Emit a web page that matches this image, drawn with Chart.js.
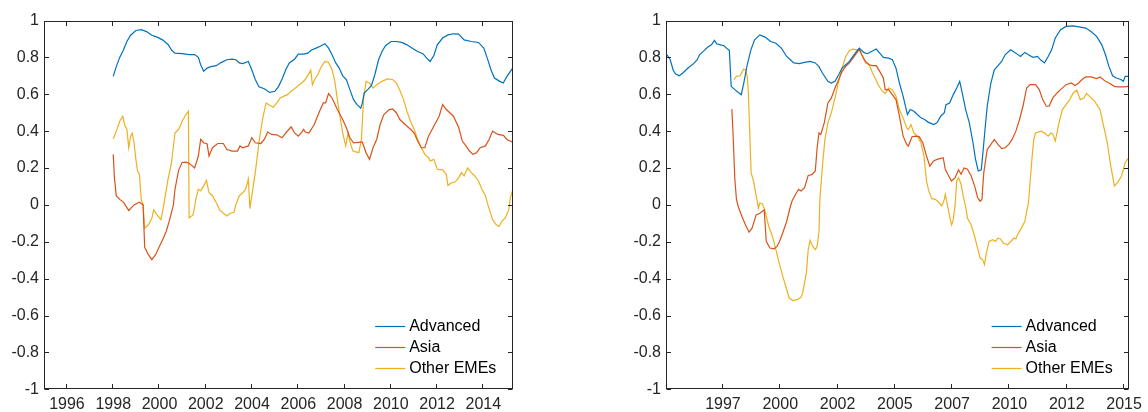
<!DOCTYPE html>
<html><head><meta charset="utf-8">
<script src="https://cdn.jsdelivr.net/npm/chart.js@4.4.1/dist/chart.umd.min.js"></script>
<style>
html,body{margin:0;padding:0;background:#fff;}
#wrap{position:relative;width:1148px;height:412px;overflow:hidden;background:#fff;}
canvas{position:absolute;top:0;}
#c1{left:0;} #c2{left:574px;}
</style></head><body>
<div id="wrap"><canvas id="c1" width="574" height="412"></canvas><canvas id="c2" width="574" height="412"></canvas></div>
<script>
const seriesNames = ['Advanced', 'Asia', 'Other EMEs'];
const seriesColors = ['#0072BD', '#D95319', '#EDB120'];

const yTickValues = [-1, -0.8, -0.6, -0.4, -0.2, 0, 0.2, 0.4, 0.6, 0.8, 1];
const yTickLabels = ['-1', '-0.8', '-0.6', '-0.4', '-0.2', '0', '0.2', '0.4', '0.6', '0.8', '1'];
const leftTickValues = [1996, 1998, 2000, 2002, 2004, 2006, 2008, 2010, 2012, 2014];
const leftTickLabels = ['1996', '1998', '2000', '2002', '2004', '2006', '2008', '2010', '2012', '2014'];
const rightTickValues = [1997.5, 2000, 2002.5, 2005, 2007.5, 2010, 2012.5, 2015];
const rightTickLabels = ['1997', '2000', '2002', '2005', '2007', '2010', '2012', '2015'];

// Left panel: [year, correlation]
const leftAdvanced = [
[1998.00,0.697],[1998.13,0.75],[1998.28,0.80],[1998.44,0.84],[1998.59,0.886],[1998.75,0.92],[1998.98,0.946],
[1999.21,0.95],[1999.44,0.94],[1999.67,0.92],[1999.90,0.91],[2000.13,0.895],[2000.37,0.87],[2000.52,0.84],
[2000.67,0.823],[2000.98,0.82],[2001.29,0.815],[2001.52,0.815],[2001.68,0.80],[2001.78,0.76],[2001.91,0.725],
[2002.06,0.742],[2002.22,0.75],[2002.45,0.755],[2002.68,0.773],[2002.91,0.787],[2003.14,0.79],[2003.30,0.787],
[2003.45,0.77],[2003.60,0.766],[2003.84,0.778],[2003.99,0.733],[2004.14,0.68],[2004.30,0.64],[2004.53,0.63],
[2004.76,0.61],[2004.99,0.616],[2005.15,0.643],[2005.30,0.683],[2005.46,0.733],[2005.61,0.77],[2005.84,0.79],
[2006.00,0.818],[2006.23,0.818],[2006.41,0.823],[2006.57,0.84],[2006.77,0.85],[2006.95,0.86],[2007.15,0.874],
[2007.31,0.85],[2007.46,0.814],[2007.62,0.77],[2007.77,0.742],[2007.92,0.70],[2008.08,0.68],[2008.23,0.625],
[2008.39,0.571],[2008.54,0.544],[2008.70,0.525],[2008.77,0.553],[2008.85,0.607],[2009.00,0.625],[2009.16,0.647],
[2009.31,0.706],[2009.47,0.787],[2009.62,0.832],[2009.77,0.863],[2010.01,0.886],[2010.24,0.886],[2010.47,0.881],
[2010.70,0.868],[2010.93,0.85],[2011.16,0.832],[2011.39,0.82],[2011.55,0.796],[2011.70,0.778],[2011.86,0.81],
[2012.01,0.868],[2012.24,0.905],[2012.47,0.922],[2012.70,0.928],[2012.93,0.926],[2013.17,0.895],[2013.48,0.886],
[2013.79,0.881],[2014.02,0.85],[2014.17,0.796],[2014.33,0.733],[2014.48,0.688],[2014.71,0.67],[2014.86,0.661],
[2015.02,0.697],[2015.27,0.742]
];
const leftAsia = [
[1998.00,0.274],[1998.05,0.15],[1998.13,0.05],[1998.28,0.03],[1998.44,0.015],[1998.67,-0.03],[1998.90,0.0],
[1999.13,0.015],[1999.29,0.0],[1999.36,-0.23],[1999.52,-0.27],[1999.67,-0.297],[1999.83,-0.27],[1999.98,-0.23],
[2000.13,-0.19],[2000.29,-0.144],[2000.44,-0.08],[2000.60,0.0],[2000.67,0.085],[2000.83,0.19],[2000.98,0.23],
[2001.14,0.232],[2001.29,0.225],[2001.52,0.20],[2001.68,0.265],[2001.78,0.355],[2001.91,0.337],[2002.06,0.33],
[2002.14,0.265],[2002.29,0.31],[2002.52,0.333],[2002.76,0.333],[2002.91,0.30],[2003.14,0.292],[2003.37,0.292],
[2003.48,0.32],[2003.60,0.31],[2003.84,0.32],[2003.99,0.364],[2004.14,0.337],[2004.38,0.333],[2004.53,0.355],
[2004.68,0.396],[2004.84,0.382],[2005.07,0.38],[2005.30,0.364],[2005.46,0.39],[2005.69,0.423],[2005.84,0.39],
[2006.00,0.373],[2006.15,0.395],[2006.23,0.41],[2006.30,0.395],[2006.46,0.39],[2006.69,0.436],[2006.92,0.508],
[2007.08,0.553],[2007.18,0.553],[2007.31,0.604],[2007.46,0.58],[2007.69,0.517],[2007.92,0.463],[2008.08,0.418],
[2008.23,0.364],[2008.39,0.337],[2008.70,0.34],[2008.77,0.34],[2008.93,0.283],[2009.08,0.247],[2009.23,0.31],
[2009.39,0.355],[2009.54,0.436],[2009.70,0.49],[2009.93,0.517],[2010.08,0.52],[2010.24,0.50],[2010.39,0.463],
[2010.62,0.436],[2010.85,0.41],[2011.01,0.39],[2011.16,0.346],[2011.32,0.31],[2011.47,0.31],[2011.63,0.373],
[2011.86,0.427],[2012.09,0.481],[2012.24,0.544],[2012.40,0.517],[2012.55,0.50],[2012.71,0.481],[2012.94,0.418],
[2013.09,0.346],[2013.25,0.32],[2013.40,0.292],[2013.55,0.274],[2013.71,0.283],[2013.86,0.31],[2014.09,0.32],
[2014.25,0.355],[2014.40,0.40],[2014.63,0.382],[2014.87,0.377],[2015.02,0.355],[2015.27,0.34]
];
const leftOther = [
[1998.00,0.358],[1998.13,0.40],[1998.28,0.454],[1998.41,0.48],[1998.51,0.427],[1998.59,0.41],[1998.67,0.31],
[1998.75,0.373],[1998.82,0.39],[1998.90,0.337],[1998.98,0.247],[1999.05,0.184],[1999.13,0.166],[1999.21,0.03],
[1999.29,0.0],[1999.36,-0.126],[1999.52,-0.108],[1999.67,-0.072],[1999.75,-0.027],[1999.90,-0.054],[2000.06,-0.08],
[2000.13,-0.04],[2000.21,0.02],[2000.37,0.14],[2000.52,0.23],[2000.67,0.39],[2000.83,0.41],[2000.98,0.454],
[2001.14,0.49],[2001.25,0.508],[2001.28,-0.07],[2001.45,-0.054],[2001.52,-0.01],[2001.57,0.03],[2001.68,0.085],
[2001.78,0.076],[2001.91,0.103],[2002.03,0.133],[2002.14,0.067],[2002.29,0.05],[2002.45,0.013],[2002.60,-0.027],
[2002.76,-0.045],[2002.91,-0.06],[2003.06,-0.045],[2003.22,-0.04],[2003.30,0.0],[2003.45,0.05],[2003.68,0.076],
[2003.76,0.10],[2003.84,0.14],[2003.91,-0.02],[2003.99,0.05],[2004.14,0.175],[2004.30,0.337],[2004.45,0.463],
[2004.61,0.553],[2004.76,0.54],[2004.92,0.53],[2005.07,0.553],[2005.22,0.58],[2005.38,0.59],[2005.53,0.598],
[2005.69,0.616],[2005.84,0.63],[2006.00,0.647],[2006.15,0.661],[2006.30,0.68],[2006.46,0.712],[2006.54,0.73],
[2006.61,0.652],[2006.72,0.683],[2006.84,0.706],[2007.00,0.75],[2007.15,0.778],[2007.31,0.773],[2007.46,0.733],
[2007.58,0.67],[2007.69,0.571],[2007.80,0.481],[2007.92,0.39],[2008.05,0.32],[2008.15,0.39],[2008.23,0.346],
[2008.36,0.292],[2008.54,0.286],[2008.62,0.283],[2008.73,0.355],[2008.82,0.571],[2008.93,0.67],[2009.08,0.661],
[2009.23,0.634],[2009.39,0.652],[2009.62,0.67],[2009.85,0.683],[2010.08,0.68],[2010.24,0.661],[2010.39,0.622],
[2010.55,0.571],[2010.70,0.508],[2010.85,0.454],[2011.01,0.41],[2011.16,0.355],[2011.32,0.31],[2011.47,0.274],
[2011.63,0.256],[2011.70,0.238],[2011.86,0.247],[2012.01,0.193],[2012.24,0.19],[2012.40,0.166],[2012.47,0.106],
[2012.63,0.12],[2012.78,0.124],[2012.94,0.148],[2013.05,0.175],[2013.17,0.157],[2013.32,0.20],[2013.48,0.175],
[2013.63,0.157],[2013.79,0.13],[2013.94,0.085],[2014.09,0.05],[2014.20,0.0],[2014.40,-0.08],[2014.56,-0.108],
[2014.68,-0.117],[2014.79,-0.09],[2014.94,-0.072],[2015.10,-0.027],[2015.17,0.04],[2015.27,0.08]
];

// Right panel: [year, correlation]
const rightAdvanced = [
[1995.06,0.814],[1995.20,0.787],[1995.33,0.73],[1995.44,0.71],[1995.59,0.70],[1995.75,0.715],[1995.98,0.742],
[1996.22,0.766],[1996.38,0.787],[1996.48,0.814],[1996.69,0.838],[1996.84,0.856],[1997.00,0.868],[1997.13,0.892],
[1997.23,0.874],[1997.39,0.868],[1997.55,0.863],[1997.70,0.845],[1997.78,0.838],[1997.86,0.643],[1998.02,0.625],
[1998.17,0.61],[1998.30,0.598],[1998.41,0.661],[1998.56,0.76],[1998.72,0.841],[1998.88,0.895],[1999.11,0.922],
[1999.34,0.91],[1999.58,0.886],[1999.81,0.877],[2000.05,0.85],[2000.28,0.805],[2000.44,0.787],[2000.59,0.77],
[2000.83,0.766],[2001.06,0.773],[2001.30,0.778],[2001.53,0.77],[2001.69,0.75],[2001.84,0.715],[2002.08,0.67],
[2002.23,0.661],[2002.39,0.67],[2002.55,0.706],[2002.70,0.742],[2002.86,0.76],[2003.02,0.778],[2003.17,0.805],
[2003.33,0.832],[2003.45,0.85],[2003.64,0.827],[2003.80,0.82],[2003.98,0.832],[2004.19,0.845],[2004.34,0.823],
[2004.50,0.80],[2004.73,0.796],[2004.89,0.787],[2005.05,0.742],[2005.20,0.661],[2005.36,0.59],[2005.55,0.49],
[2005.67,0.517],[2005.83,0.508],[2005.98,0.49],[2006.14,0.472],[2006.30,0.463],[2006.45,0.449],[2006.69,0.436],
[2006.84,0.445],[2007.00,0.481],[2007.16,0.50],[2007.23,0.544],[2007.39,0.553],[2007.55,0.598],[2007.70,0.634],
[2007.83,0.67],[2007.94,0.607],[2008.09,0.517],[2008.25,0.445],[2008.41,0.337],[2008.52,0.247],[2008.64,0.184],
[2008.77,0.19],[2008.83,0.265],[2008.92,0.39],[2009.03,0.535],[2009.19,0.661],[2009.34,0.733],[2009.50,0.755],
[2009.66,0.778],[2009.81,0.814],[2010.05,0.841],[2010.28,0.823],[2010.48,0.805],[2010.67,0.827],[2010.83,0.814],
[2011.02,0.80],[2011.22,0.805],[2011.38,0.784],[2011.53,0.77],[2011.69,0.805],[2011.84,0.841],[2012.00,0.905],
[2012.23,0.95],[2012.47,0.968],[2012.78,0.971],[2013.09,0.964],[2013.33,0.959],[2013.56,0.94],[2013.80,0.914],
[2014.03,0.868],[2014.19,0.814],[2014.34,0.751],[2014.50,0.70],[2014.66,0.688],[2014.86,0.68],[2014.97,0.67],
[2015.05,0.697],[2015.20,0.697]
];
const rightAsia = [
[1997.89,0.52],[1997.94,0.39],[1998.02,0.139],[1998.09,0.03],[1998.17,-0.01],[1998.33,-0.063],[1998.48,-0.108],
[1998.64,-0.148],[1998.77,-0.126],[1998.95,-0.054],[1999.11,-0.045],[1999.30,-0.027],[1999.39,-0.198],[1999.55,-0.234],
[1999.73,-0.238],[1999.86,-0.225],[1999.97,-0.198],[2000.13,-0.144],[2000.28,-0.09],[2000.44,-0.01],[2000.52,0.022],
[2000.67,0.058],[2000.80,0.085],[2000.91,0.076],[2001.06,0.094],[2001.22,0.16],[2001.38,0.164],[2001.53,0.184],
[2001.61,0.31],[2001.69,0.39],[2001.77,0.382],[2001.92,0.445],[2002.08,0.553],[2002.23,0.58],[2002.39,0.634],
[2002.55,0.68],[2002.70,0.724],[2002.86,0.751],[2003.02,0.77],[2003.17,0.796],[2003.33,0.823],[2003.45,0.845],
[2003.56,0.814],[2003.72,0.778],[2003.88,0.76],[2004.03,0.755],[2004.19,0.755],[2004.34,0.724],[2004.50,0.688],
[2004.58,0.625],[2004.73,0.625],[2004.89,0.598],[2005.05,0.571],[2005.20,0.481],[2005.36,0.373],[2005.52,0.328],
[2005.59,0.319],[2005.75,0.37],[2005.91,0.373],[2006.06,0.37],[2006.22,0.337],[2006.38,0.265],[2006.53,0.21],
[2006.69,0.238],[2006.84,0.247],[2007.00,0.252],[2007.11,0.256],[2007.20,0.193],[2007.31,0.166],[2007.47,0.13],
[2007.63,0.148],[2007.78,0.19],[2007.89,0.166],[2008.02,0.20],[2008.17,0.193],[2008.33,0.157],[2008.48,0.103],
[2008.61,0.04],[2008.72,0.02],[2008.80,0.03],[2008.88,0.175],[2009.03,0.30],[2009.19,0.328],[2009.34,0.355],
[2009.50,0.328],[2009.66,0.305],[2009.81,0.31],[2009.97,0.328],[2010.13,0.358],[2010.28,0.40],[2010.44,0.463],
[2010.59,0.535],[2010.75,0.634],[2010.91,0.652],[2011.14,0.652],[2011.30,0.625],[2011.45,0.571],[2011.61,0.535],
[2011.73,0.535],[2011.89,0.58],[2012.08,0.607],[2012.23,0.625],[2012.47,0.652],[2012.70,0.661],[2012.86,0.647],
[2013.02,0.661],[2013.17,0.68],[2013.33,0.694],[2013.56,0.694],[2013.80,0.685],[2013.95,0.694],[2014.19,0.67],
[2014.34,0.661],[2014.58,0.643],[2014.73,0.64],[2014.97,0.64],[2015.20,0.643]
];
const rightOther = [
[1997.98,0.68],[1998.09,0.697],[1998.25,0.70],[1998.33,0.72],[1998.41,0.737],[1998.48,0.733],[1998.56,0.697],
[1998.61,0.607],[1998.67,0.39],[1998.73,0.175],[1998.83,0.13],[1998.95,0.05],[1999.05,-0.018],[1999.11,0.01],
[1999.23,0.005],[1999.34,-0.036],[1999.50,-0.117],[1999.66,-0.171],[1999.81,-0.243],[1999.97,-0.324],[2000.13,-0.396],
[2000.28,-0.459],[2000.39,-0.505],[2000.55,-0.519],[2000.75,-0.514],[2000.91,-0.50],[2000.98,-0.477],[2001.06,-0.423],
[2001.14,-0.37],[2001.22,-0.243],[2001.30,-0.193],[2001.42,-0.225],[2001.53,-0.243],[2001.61,-0.225],[2001.69,-0.144],
[2001.73,0.03],[2001.84,0.21],[2001.95,0.355],[2002.08,0.445],[2002.23,0.50],[2002.39,0.58],[2002.55,0.67],
[2002.70,0.742],[2002.86,0.805],[2003.02,0.838],[2003.17,0.845],[2003.33,0.841],[2003.45,0.841],[2003.56,0.81],
[2003.72,0.77],[2003.88,0.76],[2004.03,0.715],[2004.14,0.688],[2004.27,0.652],[2004.42,0.622],[2004.58,0.604],
[2004.73,0.634],[2004.89,0.625],[2005.05,0.59],[2005.20,0.517],[2005.36,0.472],[2005.52,0.418],[2005.59,0.409],
[2005.70,0.436],[2005.83,0.39],[2005.98,0.373],[2006.14,0.337],[2006.27,0.265],[2006.38,0.13],[2006.48,0.076],
[2006.61,0.034],[2006.77,0.03],[2006.92,0.013],[2007.05,-0.005],[2007.16,0.03],[2007.20,0.058],[2007.31,-0.01],
[2007.42,-0.08],[2007.48,-0.108],[2007.55,-0.08],[2007.63,0.0],[2007.70,0.13],[2007.78,0.148],[2007.89,0.112],
[2007.98,0.05],[2008.09,-0.01],[2008.17,-0.072],[2008.33,-0.108],[2008.48,-0.17],[2008.61,-0.234],[2008.72,-0.288],
[2008.83,-0.297],[2008.91,-0.324],[2008.98,-0.27],[2009.11,-0.198],[2009.27,-0.189],[2009.39,-0.198],[2009.50,-0.18],
[2009.61,-0.185],[2009.73,-0.207],[2009.92,-0.216],[2010.05,-0.20],[2010.20,-0.18],[2010.28,-0.185],[2010.39,-0.153],
[2010.52,-0.126],[2010.67,-0.09],[2010.75,-0.036],[2010.83,0.013],[2010.91,0.139],[2010.98,0.247],[2011.06,0.355],
[2011.14,0.39],[2011.38,0.40],[2011.53,0.39],[2011.69,0.373],[2011.80,0.39],[2011.89,0.385],[2012.00,0.346],
[2012.16,0.445],[2012.31,0.517],[2012.47,0.544],[2012.63,0.571],[2012.78,0.607],[2012.94,0.622],[2013.09,0.571],
[2013.25,0.58],[2013.36,0.604],[2013.48,0.59],[2013.72,0.562],[2013.95,0.517],[2014.11,0.427],[2014.27,0.337],
[2014.42,0.21],[2014.58,0.103],[2014.73,0.124],[2014.89,0.157],[2015.05,0.229],[2015.20,0.256]
];

const FONT = {family: "'Liberation Sans', Arial, Helvetica, sans-serif", size: 16};
const TEXT = '#262626';

const framePlugin = {
  id: 'frame',
  afterDatasetsDraw(chart) {
    const {ctx, chartArea: a, scales} = chart;
    ctx.save();
    ctx.strokeStyle = '#262626';
    ctx.lineWidth = 1;
    const L = Math.round(a.left) - 0.5, R = Math.round(a.right) - 0.5;
    const T = Math.round(a.top) + 0.5, B = Math.round(a.bottom) - 0.5;
    ctx.strokeRect(L, T, R - L, B - T);
    const tl = 4.5;
    ctx.beginPath();
    scales.x.ticks.forEach(t => {
      const px = Math.round(scales.x.getPixelForValue(t.value)) - 0.5;
      ctx.moveTo(px, B); ctx.lineTo(px, B - tl);
      ctx.moveTo(px, T); ctx.lineTo(px, T + tl);
    });
    scales.y.ticks.forEach(t => {
      const py = Math.round(scales.y.getPixelForValue(t.value)) + 0.5;
      ctx.moveTo(L, py); ctx.lineTo(L + tl, py);
      ctx.moveTo(R, py); ctx.lineTo(R - tl, py);
    });
    ctx.stroke();
    ctx.restore();
  },
  afterDraw(chart) {
    const {ctx, chartArea: a} = chart;
    ctx.save();
    ctx.font = FONT.size + 'px ' + FONT.family;
    ctx.textBaseline = 'middle';
    ctx.textAlign = 'left';
    const rows = [326.5, 347.5, 368.5];
    chart.data.datasets.forEach((ds, i) => {
      const y = rows[i];
      ctx.strokeStyle = ds.borderColor;
      ctx.lineWidth = 1.2;
      ctx.beginPath();
      ctx.moveTo(a.right - 137.5, y); ctx.lineTo(a.right - 107.5, y);
      ctx.stroke();
      ctx.fillStyle = '#000';
      ctx.fillText(ds.label, a.right - 103.5, y);
    });
    ctx.restore();
  }
};

function makeChart(id, series, xMin, xMax, tickVals, tickLabels, yWidth, padRight) {
  const datasets = series.map((s, i) => ({
    label: seriesNames[i],
    data: s.map(p => ({x: p[0], y: p[1]})),
    borderColor: seriesColors[i],
    backgroundColor: seriesColors[i],
    borderWidth: 1.2,
    pointRadius: 0,
    tension: 0,
    fill: false
  }));
  return new Chart(document.getElementById(id), {
    type: 'line',
    data: {datasets},
    plugins: [framePlugin],
    options: {
      responsive: false,
      animation: false,
      events: [],
      layout: {padding: {left: 0, right: padRight, top: 20.5, bottom: 0}},
      plugins: {legend: {display: false}, tooltip: {enabled: false}},
      scales: {
        x: {
          type: 'linear', min: xMin, max: xMax,
          afterBuildTicks: s => { s.ticks = tickVals.map(v => ({value: v})); },
          afterFit: s => { s.height = 22.7; },
          grid: {display: false, drawTicks: false},
          border: {display: false},
          ticks: {
            autoSkip: false, maxRotation: 0, minRotation: 0, padding: 6,
            font: FONT, color: TEXT,
            callback: v => tickLabels[tickVals.indexOf(v)]
          }
        },
        y: {
          type: 'linear', min: -1, max: 1,
          afterBuildTicks: s => { s.ticks = yTickValues.map(v => ({value: v})); },
          afterFit: s => { s.width = yWidth; },
          grid: {display: false, drawTicks: false},
          border: {display: false},
          ticks: {
            autoSkip: false, padding: 6, font: FONT, color: TEXT,
            callback: v => yTickLabels[yTickValues.indexOf(v)]
          }
        }
      }
    }
  });
}

makeChart('c1', [leftAdvanced, leftAsia, leftOther], 1995.05, 2015.27, leftTickValues, leftTickLabels, 45, 61.3);
makeChart('c2', [rightAdvanced, rightAsia, rightOther], 1995.06, 2015.22, rightTickValues, rightTickLabels, 93, 13.7);
</script>
</body></html>
